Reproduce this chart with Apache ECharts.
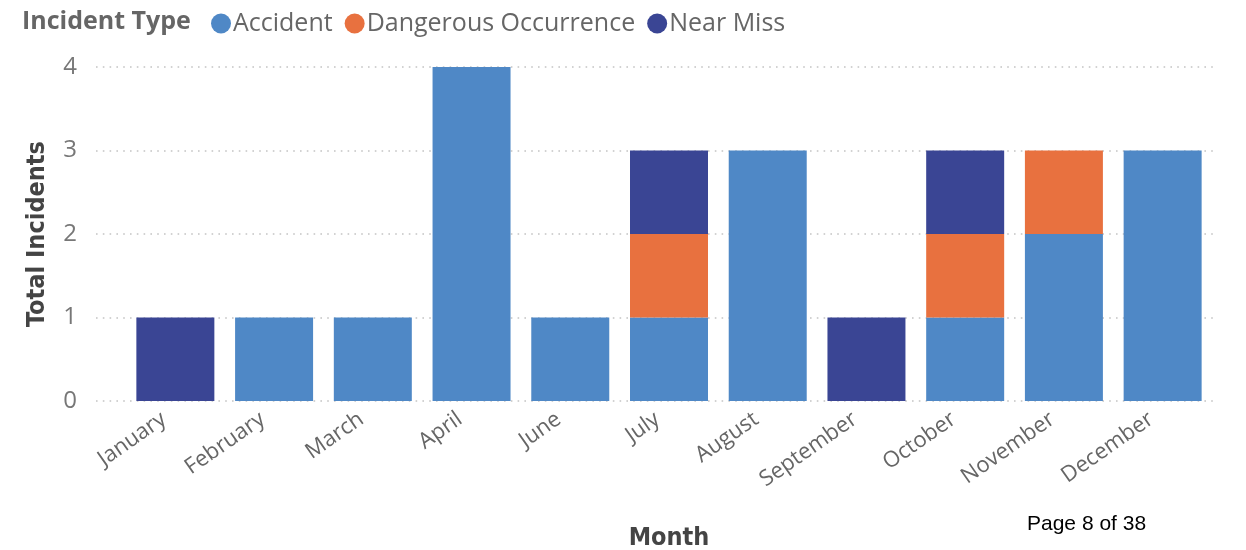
<!DOCTYPE html>
<html>
<head>
<meta charset="utf-8">
<style>
  html, body { margin: 0; padding: 0; background: #fff; }
  #chart { width: 1246px; height: 550px; }
</style>
<script src="https://cdn.jsdelivr.net/npm/echarts@6/dist/echarts.min.js"></script>
</head>
<body>
<div id="chart"></div>
<script>
// Months with recorded incidents
const months = ['January', 'February', 'March', 'April', 'June', 'July', 'August', 'September', 'October', 'November', 'December'];

// Incident counts per month, by type
const accident = [0, 1, 1, 4, 1, 1, 3, 0, 1, 2, 3];
const dangerousOccurrence = [0, 0, 0, 0, 0, 1, 0, 0, 1, 1, 0];
const nearMiss = [1, 0, 0, 0, 0, 1, 0, 1, 1, 0, 0];

// Value axis ticks
const yTicks = [0, 1, 2, 3, 4];

const colors = { accident: '#4F88C6', dangerous: '#E8713F', nearMiss: '#3A4594' };
const font = '"Open Sans", "Noto Sans", sans-serif';
const titleFont = '"DejaVu Sans Condensed", "Noto Sans", sans-serif';

const chart = echarts.init(document.getElementById('chart'));

const barSeries = (name, data, color) => ({
  name, type: 'bar', stack: 'total', data,
  xAxisIndex: 1, yAxisIndex: 1,
  barCategoryGap: '21%',
  itemStyle: { color },
  emphasis: { disabled: true }
});

chart.setOption({
  animation: false,
  textStyle: { fontFamily: font },
  legend: {
    left: 206, top: 6,
    icon: 'circle', itemWidth: 20, itemHeight: 20, itemGap: 12,
    textStyle: { fontSize: 25, color: '#666', fontFamily: font, padding: [0, 0, 0, -3] },
    data: ['Accident', 'Dangerous Occurrence', 'Near Miss']
  },
  grid: [
    // gridline / tick-label frame
    { left: 96, right: 31, top: 67, bottom: 149, outerBoundsMode: 'none' },
    // bar frame, inset like the category padding
    { left: 126, right: 34, top: 67, bottom: 149, outerBoundsMode: 'none' }
  ],
  xAxis: [
    { type: 'value', gridIndex: 0, show: false, min: 0, max: 1 },
    {
      type: 'category', gridIndex: 1, data: months,
      axisLine: { show: false }, axisTick: { show: false },
      axisLabel: { rotate: 35, fontSize: 22, color: '#666', margin: 8, padding: [0, 14, 0, 0], fontFamily: font, interval: 0 },
      name: 'Month', nameLocation: 'middle', nameGap: 125,
      nameTextStyle: { fontSize: 25, fontWeight: 'bold', color: '#444', fontFamily: titleFont }
    }
  ],
  yAxis: [
    {
      type: 'value', gridIndex: 0, min: 0, max: 4, interval: 1,
      axisLine: { show: false }, axisTick: { show: false },
      axisLabel: {
        fontSize: 24, color: '#777', margin: 19, fontFamily: font,
        formatter: v => yTicks.includes(v) ? String(v) : ''
      },
      splitLine: { lineStyle: { color: '#c4c4c4', width: 1.6, type: [1.6, 5.2] } },
      name: 'Total Incidents', nameLocation: 'middle', nameGap: 46, nameRotate: 90,
      nameTextStyle: { fontSize: 25, fontWeight: 'bold', color: '#444', fontFamily: titleFont }
    },
    {
      type: 'value', gridIndex: 1, min: 0, max: 4, interval: 1, show: false,
      splitLine: { show: false }
    }
  ],
  series: [
    barSeries('Accident', accident, colors.accident),
    barSeries('Dangerous Occurrence', dangerousOccurrence, colors.dangerous),
    barSeries('Near Miss', nearMiss, colors.nearMiss)
  ],
  graphic: [
    {
      type: 'text', left: 22, top: 9,
      style: { text: 'Incident Type', fontSize: 25, fontWeight: 'bold', fill: '#666', fontFamily: font }
    },
    {
      type: 'text', left: 1027, top: 514,
      style: { text: 'Page 8 of 38', fontSize: 21, fill: '#000', fontFamily: '"Liberation Sans", Arial, sans-serif' }
    }
  ]
});
</script>
</body>
</html>
